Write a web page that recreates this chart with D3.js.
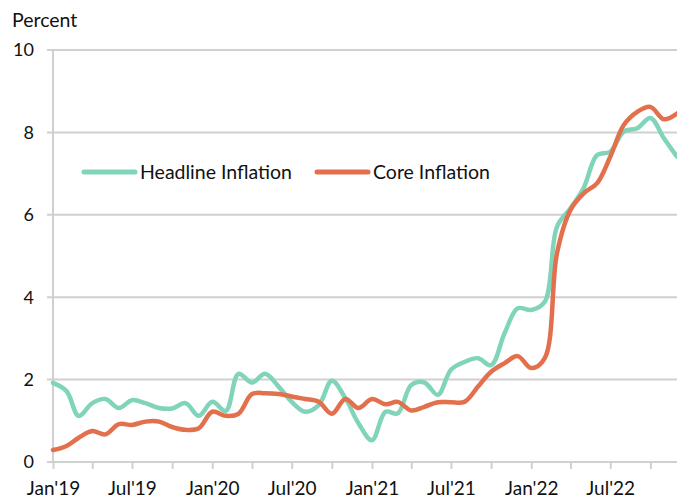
<!DOCTYPE html>
<html>
<head>
<meta charset="utf-8">
<script src="https://cdn.jsdelivr.net/npm/d3@7"></script>
<style>
  body { margin: 0; background: #fff; }
  text { font-family: Lato, "Open Sans", sans-serif; fill: #111; }
</style>
</head>
<body>
<div id="chart"></div>
<script>
// Monthly inflation, Jan 2019 - Dec 2022
const months = d3.range(48).map(i => new Date(2019, i, 1));
const headline = [
  1.92, 1.72, 1.12, 1.43, 1.53, 1.31, 1.50, 1.43, 1.31, 1.30, 1.43, 1.12,
  1.46, 1.24, 2.14, 1.93, 2.14, 1.83, 1.46, 1.22, 1.38, 1.97, 1.55, 0.94,
  0.53, 1.22, 1.18, 1.87, 1.93, 1.63, 2.24, 2.43, 2.52, 2.35, 3.13, 3.73,
  3.69, 3.89, 5.71, 6.16, 6.65, 7.45, 7.53, 8.02, 8.10, 8.35, 7.86, 7.41
];
const core = [
  0.29, 0.39, 0.59, 0.75, 0.67, 0.92, 0.90, 0.98, 0.98, 0.85, 0.78, 0.82,
  1.22, 1.12, 1.17, 1.65, 1.67, 1.65, 1.59, 1.53, 1.46, 1.17, 1.53, 1.31,
  1.53, 1.40, 1.46, 1.25, 1.34, 1.45, 1.45, 1.46, 1.83, 2.19, 2.40, 2.57,
  2.28, 2.52, 5.07, 6.12, 6.52, 6.77, 7.41, 8.18, 8.50, 8.62, 8.32, 8.46
];
const seriesNames = ['Headline Inflation', 'Core Inflation'];
const seriesColors = ['#80d4ba', '#e2704d'];
const yTicks = [0, 2, 4, 6, 8, 10];

const width = 677, height = 498;
const margin = {top: 50, right: 0, bottom: 36, left: 53};

const svg = d3.select('#chart').append('svg')
  .attr('width', width)
  .attr('height', height);

const x = d3.scaleTime()
  .domain([months[0], months[months.length - 1]])
  .range([margin.left, width - margin.right]);

const y = d3.scaleLinear()
  .domain([0, 10])
  .range([height - margin.bottom, margin.top]);

// gridlines
svg.append('g')
  .selectAll('line')
  .data(yTicks.filter(d => d > 0))
  .enter()
  .append('line')
  .attr('x1', margin.left - 6)
  .attr('x2', width)
  .attr('y1', d => y(d))
  .attr('y2', d => y(d))
  .attr('stroke', '#d0d0d0')
  .attr('stroke-width', 2);

// y axis line + labels
svg.append('line')
  .attr('x1', margin.left).attr('x2', margin.left)
  .attr('y1', y(10)).attr('y2', y(0))
  .attr('stroke', '#d0d0d0')
  .attr('stroke-width', 2);

svg.append('g')
  .selectAll('text')
  .data(yTicks)
  .enter()
  .append('text')
  .attr('x', 34)
  .attr('y', d => y(d))
  .attr('dy', '0.35em')
  .attr('text-anchor', 'end')
  .style('font-size', '18px')
  .text(d => d);

svg.append('text')
  .attr('x', 12)
  .attr('y', 27)
  .style('font-size', '19.5px')
  .text('Percent');

// x axis
const xAxis = d3.axisBottom(x)
  .tickValues(months.filter((d, i) => i % 3 === 0))
  .tickSize(7)
  .tickFormat(d => d.getMonth() === 0 || d.getMonth() === 6
    ? d3.timeFormat("%b'%y")(d) : '');

const gx = svg.append('g')
  .attr('transform', `translate(0,${y(0)})`)
  .call(xAxis);
gx.select('.domain')
  .attr('stroke', '#d0d0d0')
  .attr('stroke-width', 2)
  .attr('d', `M${margin.left - 6},0H${width}`);
gx.selectAll('.tick line')
  .attr('stroke', '#d0d0d0')
  .attr('stroke-width', 2);
gx.selectAll('.tick text')
  .attr('dy', '0.71em')
  .attr('y', 20)
  .style('font-size', '19px')
  .style('font-family', 'Lato, sans-serif')
  .attr('fill', '#111');

// lines
const line = d3.line()
  .x((d, i) => x(months[i]))
  .y(d => y(d))
  .curve(d3.curveCatmullRom.alpha(0.5));

[headline, core].forEach((data, k) => {
  svg.append('path')
    .datum(data)
    .attr('fill', 'none')
    .attr('stroke', seriesColors[k])
    .attr('stroke-width', 4.5)
    .attr('stroke-linecap', 'round')
    .attr('stroke-linejoin', 'round')
    .attr('d', line);
});

// legend
const legend = [{x: 84, tx: 140}, {x: 317, tx: 373}];
legend.forEach((p, k) => {
  svg.append('line')
    .attr('x1', p.x).attr('x2', p.x + 51)
    .attr('y1', 172).attr('y2', 172)
    .attr('stroke', seriesColors[k])
    .attr('stroke-width', 5)
    .attr('stroke-linecap', 'round');
  svg.append('text')
    .attr('x', p.tx)
    .attr('y', 172)
    .attr('dy', '0.35em')
    .style('font-size', '19.5px')
    .text(seriesNames[k]);
});
</script>
</body>
</html>
